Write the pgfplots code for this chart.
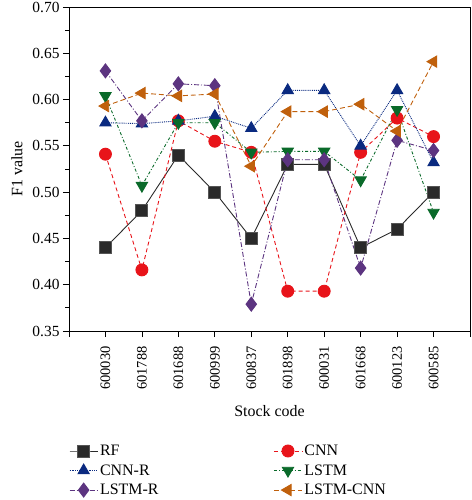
\documentclass[border=0pt]{standalone}
\usepackage{fontspec}
\setmainfont{Liberation Serif}
\usepackage{pgfplots}
\pgfplotsset{compat=1.18}
\definecolor{cRF}{HTML}{2A2A2A}
\definecolor{cCNN}{HTML}{E8141A}
\definecolor{cCNNR}{HTML}{0A2A80}
\definecolor{cLSTM}{HTML}{0A6A2A}
\definecolor{cLSTMR}{HTML}{5C3480}
\definecolor{cLC}{HTML}{C0600C}
\begin{document}
\begin{tikzpicture}[font=\fontsize{16}{19}\selectfont]
\begin{axis}[
  name=ax,
  font=\fontsize{16}{19}\selectfont,
  scale only axis, width=401bp, height=324bp,
  xmin=0, xmax=11, ymin=0.35, ymax=0.70,
  xtick={0,1,2,3,4,5,6,7,8,9,10,11},
  xticklabels={,600030,601788,601688,600999,600837,601898,600031,601668,600123,600585,},
  x tick label style={rotate=90, anchor=east, font=\fontsize{14.5}{17}\selectfont},
  xticklabel shift=6bp,
  y tick label style={font=\fontsize{15.5}{19}\selectfont},
  ytick={0.35,0.40,0.45,0.50,0.55,0.60,0.65,0.70},
  minor y tick num=1,
  yticklabel style={/pgf/number format/.cd, fixed, fixed zerofill, precision=2},
  /pgf/number format/assume math mode=true,
  tick align=outside,
  tick pos=left,
  major tick length=6bp, minor tick length=3.5bp,
  every tick/.style={black, line width=0.8pt},
  axis line style={line width=0.8pt},
  xlabel={Stock code}, ylabel={F1 value},
  xlabel shift=9bp, ylabel shift=3bp,
  label style={font=\fontsize{16}{19}\selectfont},
  legend columns=2,
  legend cell align=left,
  legend style={at={(0,-0.345)}, anchor=north west, draw=none, fill=none,
    font=\fontsize{16}{19}\selectfont,
    inner sep=0pt, row sep=3.5bp,
    /tikz/column 2/.style={column sep=113bp}},
  legend image code/.code={\draw[mark repeat=2, mark phase=2] plot coordinates {(0bp,0bp) (14bp,0bp) (28bp,0bp)};},
  every axis plot/.append style={line width=0.9pt},
]
\addplot[cRF, solid, mark=square*, mark size=6bp, mark options={solid, fill=cRF, draw=cRF!80!white}] coordinates {
(1,0.440) (2,0.480) (3,0.540) (4,0.500) (5,0.450) (6,0.530) (7,0.530) (8,0.440) (9,0.460) (10,0.500)};
\addlegendentry{RF}
\addplot[cCNN, dash pattern=on 4pt off 3pt, mark=*, mark size=6bp, mark options={solid, fill=cCNN}] coordinates {
(1,0.541) (2,0.416) (3,0.577) (4,0.555) (5,0.543) (6,0.393) (7,0.393) (8,0.543) (9,0.580) (10,0.560)};
\addlegendentry{CNN}
\addplot[cCNNR, densely dotted, mark=triangle*, mark size=6.5bp, mark options={solid, fill=cCNNR}] coordinates {
(1,0.575) (2,0.574) (3,0.577) (4,0.582) (5,0.569) (6,0.610) (7,0.610) (8,0.550) (9,0.610) (10,0.532)};
\addlegendentry{CNN-R}
\addplot[cLSTM, dashdotted, mark=triangle*, mark size=6.5bp, mark options={solid, fill=cLSTM, rotate=180}] coordinates {
(1,0.604) (2,0.507) (3,0.575) (4,0.575) (5,0.543) (6,0.544) (7,0.544) (8,0.513) (9,0.589) (10,0.478)};
\addlegendentry{LSTM}
\addplot[cLSTMR, dash pattern=on 5pt off 2pt on 1pt off 2pt, mark=diamond*, mark size=7bp, mark options={solid, fill=cLSTMR}] coordinates {
(1,0.631) (2,0.577) (3,0.617) (4,0.615) (5,0.379) (6,0.535) (7,0.535) (8,0.418) (9,0.556) (10,0.545)};
\addlegendentry{LSTM-R}
\addplot[cLC, dash pattern=on 5pt off 3pt, mark=triangle*, mark size=6.5bp, mark options={solid, fill=cLC, rotate=90}] coordinates {
(1,0.593) (2,0.607) (3,0.604) (4,0.606) (5,0.528) (6,0.587) (7,0.587) (8,0.595) (9,0.566) (10,0.641)};
\addlegendentry{LSTM-CNN}
\end{axis}
\pgfresetboundingbox
\path ([shift={(-69bp,-169bp)}]ax.south west) rectangle ([shift={(2bp,7bp)}]ax.north east);
\end{tikzpicture}
\end{document}
